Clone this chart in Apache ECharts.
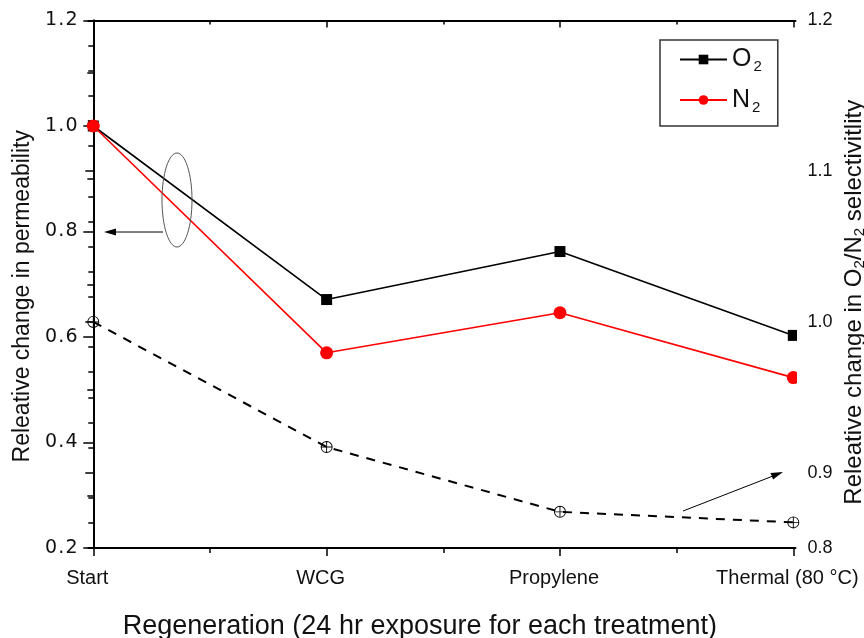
<!DOCTYPE html>
<html>
<head>
<meta charset="utf-8">
<script src="https://cdn.jsdelivr.net/npm/echarts@6/dist/echarts.min.js"></script>
<style>
  html, body { margin: 0; padding: 0; background: #fff; }
  #chart { width: 864px; height: 638px; }
</style>
</head>
<body>
<div id="chart"></div>
<script>
// Regeneration treatments along the x axis
const categories = ['Start', 'WCG', 'Propylene', 'Thermal (80 °C)'];
// Relative permeability (left axis)
const o2Permeability = [1.0, 0.671, 0.762, 0.603];
const n2Permeability = [1.0, 0.570, 0.646, 0.523];
// Relative O2/N2 selectivity (right axis)
const selectivity = [1.0, 0.917, 0.874, 0.867];

// Axis ticks and labels
const xMajorTicks = [0, 1, 2, 3];
const xMinorTicks = [0.5, 1.5, 2.5];
const rightLabelValues = [0.85, 0.9, 1.0, 1.1, 1.2];
const rightMajorTicks = [0.9, 1.0, 1.1, 1.2];
const rightMinorTicks = [];
for (let k = 0; k <= 21; k++) rightMinorTicks.push(+(1.2 - k / 60).toFixed(5));

const FONT = 'Liberation Sans, Arial, sans-serif';
const WIDE_FONT = 'DejaVu Sans, Verdana, sans-serif';
const TXT = '#111';

const toPoints = vals => vals.map((v, i) => [i, v]);

// wide-set digits for the permeability scale
const spacedLabel = v => v.toFixed(1).split('').map(c => '{d|' + c + '}').join('');

const chart = echarts.init(document.getElementById('chart'), null, { renderer: 'canvas' });

const xBase = {
  type: 'value', min: -0.0214, max: 3.0094,
  splitLine: { show: false }
};

const option = {
  animation: false,
  backgroundColor: '#fff',
  textStyle: { fontFamily: FONT },
  grid: { left: 88.3, right: 68.5, top: 20.5, bottom: 90, containLabel: false, outerBoundsMode: 'none' },
  legend: {
    data: ['O2', 'N2'],
    left: 660, top: 40,
    orient: 'vertical',
    padding: [7, 16, 11, 19],
    itemGap: 13,
    itemWidth: 47, itemHeight: 12,
    borderColor: '#333', borderWidth: 1.5,
    formatter: name => '{m|' + name.charAt(0) + '}{s|' + name.charAt(1) + '}',
    textStyle: {
      fontFamily: FONT, color: TXT,
      rich: {
        m: { fontSize: 25, fontFamily: FONT, color: TXT },
        s: { fontSize: 15, fontFamily: FONT, color: TXT, padding: [15, 0, 0, 2] }
      }
    }
  },
  xAxis: [
    Object.assign({}, xBase, {
      position: 'bottom',
      axisLine: { show: true, lineStyle: { color: '#000', width: 2 } },
      axisTick: { show: true, inside: false, length: 8, customValues: xMajorTicks, lineStyle: { color: '#000', width: 1.5 } },
      axisLabel: {
        show: true, customValues: xMajorTicks, margin: 20,
        fontSize: 20, fontFamily: FONT, color: TXT, padding: [0, 12, 0, 0],
        formatter: v => categories[Math.round(v)]
      },
      name: 'Regeneration (24 hr exposure for each treatment)',
      nameLocation: 'middle', nameGap: 65, nameMoveOverlap: false,
      nameTextStyle: { fontSize: 27, fontFamily: FONT, color: TXT, padding: [0, 44, 0, 0] }
    }),
    Object.assign({}, xBase, {
      position: 'bottom',
      axisLine: { show: false },
      axisTick: { show: true, inside: false, length: 5, customValues: xMinorTicks, lineStyle: { color: '#000', width: 1.5 } },
      axisLabel: { show: false }
    }),
    Object.assign({}, xBase, {
      position: 'top',
      axisLine: { show: true, lineStyle: { color: '#000', width: 2 } },
      axisTick: { show: true, inside: true, length: 7, customValues: xMajorTicks, lineStyle: { color: '#000', width: 1.5 } },
      axisLabel: { show: false }
    }),
    Object.assign({}, xBase, {
      position: 'top',
      axisLine: { show: false },
      axisTick: { show: true, inside: true, length: 4, customValues: xMinorTicks, lineStyle: { color: '#000', width: 1.5 } },
      axisLabel: { show: false }
    })
  ],
  yAxis: [
    {
      type: 'value', position: 'left', min: 0.2, max: 1.2, interval: 0.2,
      axisLine: { show: true, lineStyle: { color: '#000', width: 2 } },
      axisTick: { show: true, inside: false, length: 10, lineStyle: { color: '#000', width: 1.5 } },
      minorTick: { show: true, splitNumber: 2, length: 6, lineStyle: { color: '#000', width: 1.5 } },
      splitLine: { show: false },
      axisLabel: {
        margin: 10, color: TXT, formatter: spacedLabel,
        rich: { d: { fontSize: 19, fontFamily: WIDE_FONT, color: TXT, padding: [0, 0.6, 0, 0.6] } }
      },
      name: 'Releative change in permeability',
      nameLocation: 'middle', nameGap: 54, nameMoveOverlap: false,
      nameTextStyle: { fontSize: 23, fontFamily: FONT, color: TXT, padding: [0, 24, 0, 0] }
    },
    {
      type: 'value', position: 'right', min: 0.85, max: 1.2,
      axisLine: { show: true, lineStyle: { color: '#000', width: 2 } },
      axisTick: { show: true, inside: true, length: 8, customValues: rightMajorTicks, lineStyle: { color: '#000', width: 1.5 } },
      splitLine: { show: false },
      axisLabel: {
        customValues: rightLabelValues, margin: 12,
        fontSize: 18, fontFamily: FONT, color: TXT,
        formatter: v => (v < 0.875 ? '0.8' : v.toFixed(1))
      },
      name: '{t|Releative change in O}{s|2}{t|/N}{s|2}{t| selectivitlity}',
      nameLocation: 'middle', nameGap: 45, nameMoveOverlap: false,
      nameTextStyle: {
        fontFamily: FONT, color: TXT, padding: [0, 36, 0, 0],
        rich: {
          t: { fontSize: 24, fontFamily: FONT, color: TXT },
          s: { fontSize: 15, fontFamily: FONT, color: TXT, padding: [12, 0, 0, 0] }
        }
      }
    },
    {
      type: 'value', position: 'right', min: 0.85, max: 1.2,
      axisLine: { show: false },
      axisTick: { show: true, inside: true, length: 5, customValues: rightMinorTicks, lineStyle: { color: '#000', width: 1.5 } },
      splitLine: { show: false },
      axisLabel: { show: false }
    }
  ],
  series: [
    {
      name: 'O2', type: 'line', xAxisIndex: 0, yAxisIndex: 0,
      data: toPoints(o2Permeability),
      symbol: 'rect', symbolSize: 11,
      itemStyle: { color: '#000' },
      lineStyle: { color: '#000', width: 1.6 },
      z: 3
    },
    {
      name: 'N2', type: 'line', xAxisIndex: 0, yAxisIndex: 0,
      data: toPoints(n2Permeability),
      symbol: 'circle', symbolSize: 13,
      itemStyle: { color: '#ff0000' },
      lineStyle: { color: '#ff0000', width: 1.6 },
      z: 4
    },
    {
      name: 'Selectivity', type: 'line', xAxisIndex: 0, yAxisIndex: 1,
      data: toPoints(selectivity),
      symbol: 'path://M0,-6A6,6 0 1,1 0,6A6,6 0 1,1 0,-6Z M0,-5.1A5.1,5.1 0 1,0 0,5.1A5.1,5.1 0 1,0 0,-5.1Z M-5.2,-0.45H5.2V0.45H-5.2Z M-0.45,-5.2H0.45V5.2H-0.45Z',
      symbolSize: 12,
      itemStyle: { color: '#000' },
      lineStyle: { color: '#000', width: 2, type: [9, 8] },
      z: 2
    }
  ],
  graphic: [
    // markers cut at the right frame
    { type: 'rect', shape: { x: 797, y: 320, width: 7, height: 70 }, style: { fill: '#fff' }, z: 100 },
    // ellipse + arrow pointing to the left axis
    { type: 'ellipse', shape: { cx: 177, cy: 200, rx: 15, ry: 47 }, style: { fill: null, stroke: '#555', lineWidth: 1 }, z: 100 },
    { type: 'line', shape: { x1: 163, y1: 232, x2: 112, y2: 232 }, style: { stroke: '#000', lineWidth: 1 }, z: 100 },
    { type: 'polygon', shape: { points: [[104, 232], [116, 228.5], [116, 235.5]] }, style: { fill: '#000' }, z: 100 },
    // arrow pointing to the right axis
    { type: 'line', shape: { x1: 683, y1: 511, x2: 773, y2: 476 }, style: { stroke: '#000', lineWidth: 1 }, z: 100 },
    { type: 'polygon', shape: { points: [[783, 472], [773.1, 479.6], [770.5, 473.1]] }, style: { fill: '#000' }, z: 100 }
  ]
};

chart.setOption(option);
</script>
</body>
</html>
